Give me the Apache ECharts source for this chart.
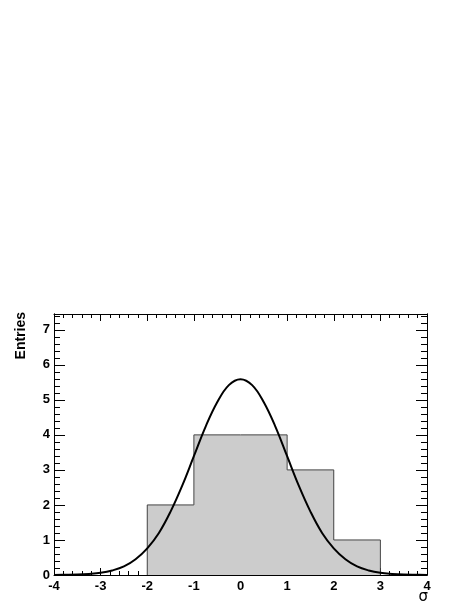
<!DOCTYPE html>
<html>
<head>
<meta charset="utf-8">
<script src="https://cdn.jsdelivr.net/npm/echarts@6/dist/echarts.min.js"></script>
<style>
html,body{margin:0;padding:0;background:#fff;}
#chart{width:474px;height:614px;}
</style>
</head>
<body>
<div id="chart"></div>
<script>
// Histogram bins (lower edges, width 1) and counts
const binLow = [-2, -1, 0, 1, 2];
const binCounts = [2, 4, 4, 3, 1];
const binWidth = 1;
// Fitted curve
const curveX = [-4, -3.75, -3.5, -3.25, -3, -2.75, -2.5, -2.25, -2, -1.75, -1.5, -1.25, -1, -0.75, -0.5, -0.25, 0,
                0.25, 0.5, 0.75, 1, 1.25, 1.5, 1.75, 2, 2.25, 2.5, 2.75, 3, 3.25, 3.5, 3.75, 4];
const curveY = [0.002, 0.005, 0.012, 0.03, 0.062, 0.13, 0.245, 0.45, 0.76, 1.2, 1.81, 2.55, 3.39, 4.23, 4.93, 5.42, 5.59,
                5.42, 4.93, 4.23, 3.39, 2.55, 1.81, 1.2, 0.76, 0.45, 0.245, 0.13, 0.062, 0.03, 0.012, 0.005, 0.002];
const xTicks = [-4, -3, -2, -1, 0, 1, 2, 3, 4];
const yTicks = [0, 1, 2, 3, 4, 5, 6, 7];
const xRange = [-4, 4];
const yRange = [0, 7.45];

const FONT = '"Liberation Sans", Arial, Helvetica, sans-serif';
const chart = echarts.init(document.getElementById('chart'), null, {renderer: 'canvas'});
const gridPos = {left: 54, top: 314, width: 373, height: 261};
const lineStyle = {color: '#000', width: 1};

function xAx(grid, pos, labels, show) {
  return {
    type: 'value', gridIndex: grid, position: pos, show: show,
    min: xRange[0], max: xRange[1], interval: 1,
    axisLine: {show: true, onZero: false, lineStyle: lineStyle},
    axisTick: {show: true, inside: true, length: 7, lineStyle: lineStyle},
    minorTick: {show: true, splitNumber: 5, length: 4, lineStyle: lineStyle},
    splitLine: {show: false}, minorSplitLine: {show: false},
    axisLabel: {show: labels, margin: 5, color: '#000', fontFamily: FONT, fontWeight: 'bold', fontSize: 13,
      showMinLabel: true, showMaxLabel: true,
      formatter: v => xTicks.indexOf(v) >= 0 ? String(v) : ''}
  };
}
function yAx(grid, pos, labels, interval, len) {
  return {
    type: 'value', gridIndex: grid, position: pos,
    min: yRange[0], max: yRange[1], interval: interval,
    axisLine: {show: true, onZero: false, lineStyle: lineStyle},
    axisTick: {show: true, inside: true, length: len, lineStyle: lineStyle},
    splitLine: {show: false},
    axisLabel: {show: labels, margin: 4, color: '#000', fontFamily: FONT, fontWeight: 'bold', fontSize: 13,
      showMaxLabel: true,
      formatter: v => yTicks.indexOf(v) >= 0 ? String(v) : ''}
  };
}

const option = {
  backgroundColor: '#fff',
  animation: false,
  grid: [Object.assign({}, gridPos), Object.assign({}, gridPos)],
  xAxis: [
    xAx(0, 'bottom', true, true),
    xAx(0, 'top', false, true),
    xAx(1, 'bottom', false, false)
  ],
  yAxis: [
    yAx(0, 'left', true, 1, 11),
    yAx(0, 'right', false, 1, 11),
    yAx(1, 'left', false, 0.2, 6),
    yAx(1, 'right', false, 0.2, 6)
  ],
  series: [
    {
      type: 'custom',
      xAxisIndex: 0, yAxisIndex: 0,
      data: binLow.map((x, i) => [x, binCounts[i]]),
      renderItem: function (params, api) {
        const i = params.dataIndex;
        const x0 = api.value(0), c = api.value(1);
        const prev = i > 0 ? binCounts[i - 1] : 0;
        const isLast = i === binCounts.length - 1;
        const pTL = api.coord([x0, c]);
        const pBR = api.coord([x0 + binWidth, 0]);
        const pPrev = api.coord([x0, prev]);
        const pTR = api.coord([x0 + binWidth, c]);
        const rx0 = Math.round(pTL[0]), rx1 = Math.round(pBR[0]);
        const ry0 = Math.round(pTL[1]), ry1 = Math.round(pBR[1]);
        const outline = {stroke: '#444444', lineWidth: 1, fill: null};
        const children = [
          {type: 'rect', shape: {x: rx0, y: ry0, width: rx1 - rx0, height: ry1 - ry0},
           style: {fill: '#cccccc', stroke: null}},
          {type: 'polyline', shape: {points: [pPrev, pTL, pTR]}, style: outline}
        ];
        if (isLast) {
          children.push({type: 'line', shape: {x1: pTR[0], y1: pTR[1], x2: pBR[0], y2: pBR[1]}, style: outline});
        }
        return {type: 'group', children: children};
      },
      z: 2
    },
    {
      type: 'line',
      xAxisIndex: 0, yAxisIndex: 0,
      data: curveX.map((x, i) => [x, curveY[i]]),
      smooth: 0.4,
      showSymbol: false,
      lineStyle: {color: '#000', width: 2},
      z: 3
    }
  ],
  graphic: [
    {
      type: 'text', x: 21, y: 312, rotation: Math.PI / 2,
      style: {text: 'Entries', fill: '#000', font: 'bold 14px ' + FONT, align: 'right', verticalAlign: 'middle'}
    },
    {
      type: 'text', x: 428, y: 597,
      style: {text: 'σ', fill: '#000', font: '15px "DejaVu Sans", sans-serif', align: 'right', verticalAlign: 'middle'}
    }
  ]
};
chart.setOption(option);
</script>
</body>
</html>
